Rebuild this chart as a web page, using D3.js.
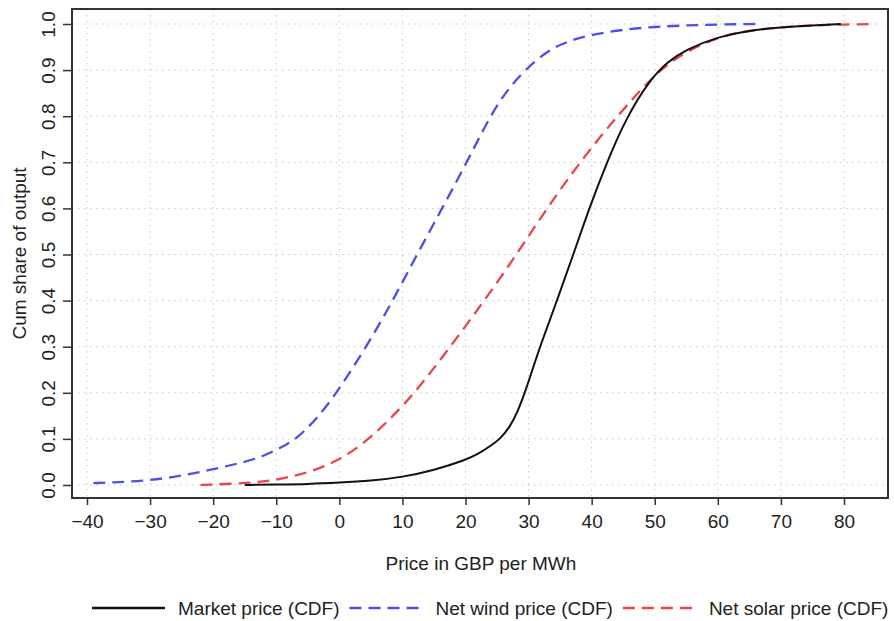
<!DOCTYPE html>
<html>
<head>
<meta charset="utf-8">
<script src="https://cdn.jsdelivr.net/npm/d3@7"></script>
<style>
  body { margin: 0; background: #fff; }
  text { font-family: "Liberation Sans", Arial, sans-serif; fill: #222; }
</style>
</head>
<body>
<svg id="chart" width="894" height="621"></svg>
<script>
// DATA
const xTicks = [-40, -30, -20, -10, 0, 10, 20, 30, 40, 50, 60, 70, 80];
const yTicks = [0, 0.1, 0.2, 0.3, 0.4, 0.5, 0.6, 0.7, 0.8, 0.9, 1.0];

const marketX = [-15, -10, -5, 0, 5, 10, 15, 20, 22, 24, 25.5, 27, 28.3, 29.4, 30.5, 31.8, 34.5, 37.1, 39.6, 42.4, 45.6, 49.2, 52, 55, 60, 65, 70, 75, 79.5];
const marketY = [0, 0.001, 0.002, 0.005, 0.009, 0.017, 0.032, 0.054, 0.067, 0.085, 0.10, 0.125, 0.16, 0.20, 0.245, 0.30, 0.40, 0.50, 0.60, 0.70, 0.80, 0.878, 0.918, 0.945, 0.972, 0.986, 0.993, 0.997, 1.0];

const windX = [-39, -35, -30, -25, -20, -15, -12.5, -10, -8.5, -6.8, -3.5, -0.4, 4.3, 8.5, 12.3, 16.3, 20.2, 23.9, 26.5, 29.4, 32.8, 36, 40, 45, 50, 55, 60, 66];
const windY = [0.004, 0.006, 0.01, 0.02, 0.034, 0.05, 0.06, 0.076, 0.087, 0.10, 0.145, 0.20, 0.30, 0.40, 0.50, 0.60, 0.70, 0.80, 0.855, 0.90, 0.94, 0.962, 0.977, 0.988, 0.994, 0.997, 0.999, 1.0];

const solarX = [-22, -20, -15, -12.5, -10, -5, 0, 4.8, 8.5, 12, 17.6, 23, 28.1, 32.9, 38.1, 44, 49.3, 52, 55, 60, 65, 70, 75, 80, 85];
const solarY = [0, 0.001, 0.004, 0.007, 0.011, 0.026, 0.053, 0.10, 0.15, 0.20, 0.30, 0.40, 0.50, 0.60, 0.70, 0.80, 0.88, 0.912, 0.94, 0.972, 0.986, 0.993, 0.997, 0.999, 1.0];

const seriesNames = ["Market price (CDF)", "Net wind price (CDF)", "Net solar price (CDF)"];
const seriesColors = ["#111111", "#4f4fe6", "#e8464c"];

const series = [
    { name: seriesNames[0], color: seriesColors[0], dash: null, pts: marketX.map((x, i) => [x, marketY[i]]) },
    { name: seriesNames[1], color: seriesColors[1], dash: "12,7", pts: windX.map((x, i) => [x, windY[i]]) },
    { name: seriesNames[2], color: seriesColors[2], dash: "12,7", pts: solarX.map((x, i) => [x, solarY[i]]) }
];

const frame = { left: 72, right: 888, top: 9, bottom: 498 };
const font = "Liberation Sans, Arial, sans-serif";
const fontSize = 19;

const svg = d3.select("svg#chart");

// SCALES
const xScale = d3.scaleLinear().domain([-40, 80]).range([87, 844]);
const yScale = d3.scaleLinear().domain([0, 1]).range([485, 24]);

// GRID
const grid = svg.append("g")
    .attr("stroke", "#c8c8c8")
    .attr("stroke-width", 1)
    .attr("stroke-dasharray", "1.5,4.5");

grid.selectAll("line.v")
    .data(xTicks)
    .join("line")
    .attr("class", "v")
    .attr("x1", d => xScale(d)).attr("x2", d => xScale(d))
    .attr("y1", frame.top).attr("y2", frame.bottom);

grid.selectAll("line.h")
    .data(yTicks)
    .join("line")
    .attr("class", "h")
    .attr("x1", frame.left).attr("x2", frame.right)
    .attr("y1", d => yScale(d)).attr("y2", d => yScale(d));

// LINES
const line = d3.line()
    .x(d => xScale(d[0]))
    .y(d => yScale(d[1]))
    .curve(d3.curveBasis);

svg.append("g").selectAll("path")
    .data(series.slice().reverse())
    .join("path")
    .attr("fill", "none")
    .attr("stroke", d => d.color)
    .attr("stroke-width", d => d.dash ? 2.3 : 2)
    .attr("stroke-dasharray", d => d.dash)
    .attr("d", d => line(d.pts));

// FRAME
svg.append("rect")
    .attr("x", frame.left).attr("y", frame.top)
    .attr("width", frame.right - frame.left)
    .attr("height", frame.bottom - frame.top)
    .attr("fill", "none")
    .attr("stroke", "#333")
    .attr("stroke-width", 2);

// AXIS
const xAxis = g => g.attr("transform", `translate(0, ${frame.bottom})`)
    .call(d3.axisBottom(xScale).tickValues(xTicks).tickSize(7).tickPadding(10).tickFormat(d3.format("d")))
    .call(g => g.select(".domain").remove())
    .call(g => g.selectAll(".tick line").attr("stroke", "#333").attr("stroke-width", 1.5))
    .call(g => g.selectAll(".tick text").attr("font-size", fontSize).attr("fill", "#222")
        .attr("font-family", font));

const yAxis = g => g.attr("transform", `translate(${frame.left},0)`)
    .call(d3.axisLeft(yScale).tickValues(yTicks).tickSize(9).tickFormat(d3.format(".1f")))
    .call(g => g.select(".domain").remove())
    .call(g => g.selectAll(".tick line").attr("stroke", "#333").attr("stroke-width", 1.5))
    .call(g => g.selectAll(".tick text")
        .attr("font-size", fontSize).attr("fill", "#222")
        .attr("font-family", font)
        .attr("text-anchor", "middle")
        .attr("dy", null)
        .attr("x", 0)
        .attr("transform", "translate(-24,0) rotate(-90)")
        .attr("dominant-baseline", "central"));

svg.append("g").call(xAxis);
svg.append("g").call(yAxis);

// AXIS TITLES
svg.append("text")
    .attr("x", 481).attr("y", 563)
    .attr("text-anchor", "middle")
    .attr("dominant-baseline", "central")
    .attr("font-size", fontSize)
    .text("Price in GBP per MWh");

svg.append("text")
    .attr("transform", `translate(19, ${(frame.top + frame.bottom) / 2}) rotate(-90)`)
    .attr("text-anchor", "middle")
    .attr("dominant-baseline", "central")
    .attr("font-size", fontSize)
    .text("Cum share of output");

// LEGEND
const legend = svg.append("g").attr("transform", "translate(0, 608)");
let lx = 92;
series.forEach(s => {
    legend.append("line")
        .attr("x1", lx).attr("x2", lx + 73)
        .attr("y1", 0).attr("y2", 0)
        .attr("stroke", s.color)
        .attr("stroke-width", 2.3)
        .attr("stroke-dasharray", s.dash);
    const t = legend.append("text")
        .attr("x", lx + 86).attr("y", 0)
        .attr("dominant-baseline", "central")
        .attr("font-size", fontSize)
        .text(s.name);
    lx += 86 + t.node().getComputedTextLength() + 10;
});
</script>
</body>
</html>
